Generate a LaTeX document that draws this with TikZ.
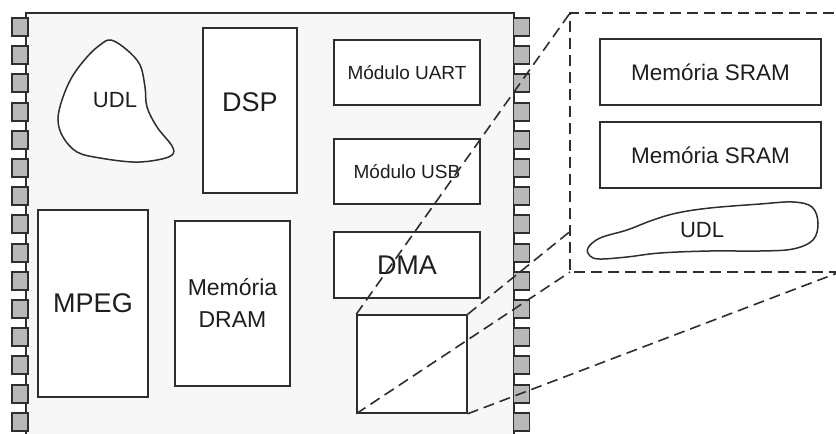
\documentclass[tikz,border=0pt]{standalone}
\usepackage{fontspec}
\setmainfont{Liberation Sans}
\usetikzlibrary{calc}
\definecolor{ln}{HTML}{2E2E2E}
\definecolor{tx}{HTML}{1E1E1E}
\definecolor{chipbg}{HTML}{F7F7F7}
\definecolor{pinfill}{HTML}{B8B8B8}
\begin{document}
\begin{tikzpicture}[x=1pt,y=-1pt,
  blk/.style={draw=ln, line width=1.5pt, fill=white, inner sep=0pt, text=tx, align=center},
  pinbox/.style={draw=ln, line width=1.9pt, fill=pinfill, minimum width=16pt, minimum height=18pt, inner sep=0pt},
  lbl/.style={text=tx, inner sep=0pt, align=center},
  zoomline/.style={draw=ln, line width=1.6pt, dash pattern=on 11pt off 6pt}]
\useasboundingbox (0,0) rectangle (836,434);
\clip (0,0) rectangle (836,434);
% chip body
\draw[ln, line width=1.6pt, fill=chipbg] (26,13) rectangle (514,460);
% pins
\foreach \i in {0,...,14} {
  \node[pinbox] (pl\i) at (20,{27+28.2*\i}) {};
  \node[pinbox] (pr\i) at (521.5,{27+28.2*\i}) {};
}
% UDL blob (left)
\draw[ln, line width=1.5pt, fill=white] plot[smooth cycle, tension=0.6] coordinates {
  (111,40) (127,50) (140,65) (145,87) (147,107) (157,127) (172,146) (172,155) (157,160)
  (133,162) (100,158) (77,152) (63,137) (58,120) (62,100) (72,77) (87,57) (100,45)};
\node[lbl, font=\fontsize{22}{24}\selectfont] (udl1) at (115,100) {UDL};
% blocks
\node[blk, minimum width=94pt, minimum height=165pt] (dsp) at (250,110.5) {};
\node[lbl, font=\fontsize{27}{29}\selectfont] (dspt) at (250,102) {DSP};
\node[blk, minimum width=146pt, minimum height=65pt, font=\fontsize{19}{21}\selectfont] (uart) at (407,72.5) {Módulo UART};
\node[blk, minimum width=146pt, minimum height=65pt, font=\fontsize{19}{21}\selectfont] (usb) at (407,171.5) {Módulo USB};
\node[blk, minimum width=146pt, minimum height=66pt, font=\fontsize{27}{29}\selectfont] (dma) at (407,265) {DMA};
\node[blk, minimum width=110pt, minimum height=187pt, font=\fontsize{27}{29}\selectfont] (mpeg) at (93,303.5) {MPEG};
\node[blk, minimum width=115pt, minimum height=165pt, font=\fontsize{23}{32}\selectfont] (dram) at (232.5,303.5) {Memória\\DRAM};
\node[blk, minimum width=110pt, minimum height=98pt] (cube) at (412,364) {};
% zoomed region
\coordinate (ztl) at (570,13);
\coordinate (zbl) at (570,272);
\coordinate (ztr) at (840,13);
\coordinate (zbr) at (840,272);
\draw[zoomline] (zbr) -- (zbl) -- (ztl) -- (ztr);
\node[blk, minimum width=221pt, minimum height=66pt, font=\fontsize{22.5}{24}\selectfont] (sram1) at (710.5,72) {Memória SRAM};
\node[blk, minimum width=221pt, minimum height=66pt, font=\fontsize{22.5}{24}\selectfont] (sram2) at (710.5,155) {Memória SRAM};
\draw[ln, line width=1.5pt, fill=white] plot[smooth cycle, tension=0.6] coordinates {
  (588,248) (600,238) (627,230) (653,220) (677,213) (710,208) (760,204) (793,202) (812,207)
  (818,223) (813,240) (793,249) (760,251) (710,251) (660,253) (627,257) (600,259) (590,256)};
\node[lbl, font=\fontsize{22}{24}\selectfont] (udl2) at (702,230) {UDL};
% frustum lines
\coordinate (zhid) at ($(cube.north east)!{(570-467)/(840-467)}!(ztr)$);
\draw[zoomline] (cube.north west) -- (ztl);
\draw[zoomline] (cube.north east) -- (zhid);
\draw[zoomline] (cube.south west) -- (zbl);
\draw[zoomline] (cube.south east) -- (zbr);
\end{tikzpicture}
\end{document}
